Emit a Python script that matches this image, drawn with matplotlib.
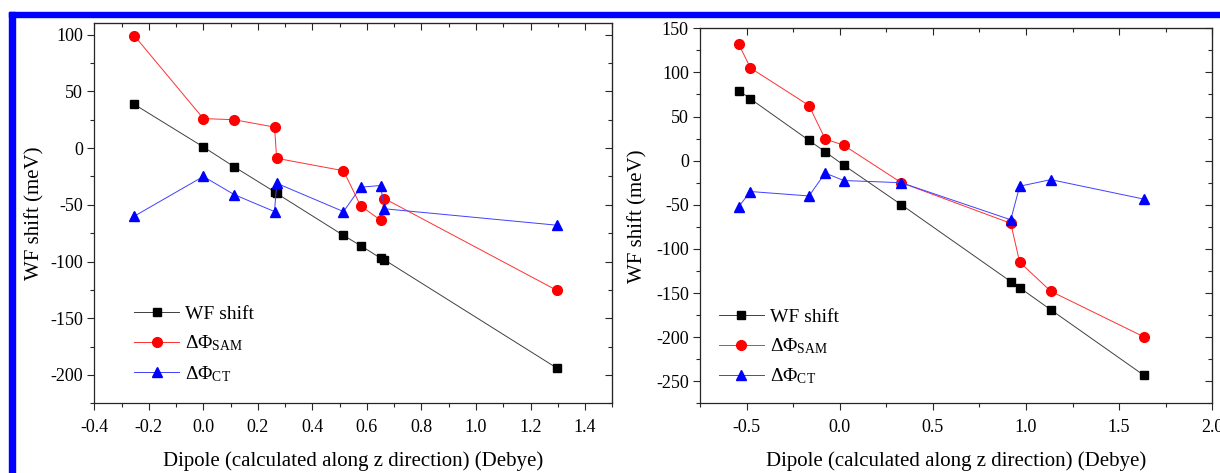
import matplotlib
matplotlib.use("Agg")
import matplotlib.pyplot as plt
from matplotlib.patches import Rectangle
from matplotlib.ticker import MultipleLocator

plt.rcParams["font.family"] = ["Liberation Serif", "DejaVu Serif"]
plt.rcParams["mathtext.fontset"] = "custom"
plt.rcParams["mathtext.rm"] = "Liberation Serif"
plt.rcParams["mathtext.it"] = "Liberation Serif:italic"
plt.rcParams["mathtext.bf"] = "Liberation Serif:bold"
plt.rcParams["axes.unicode_minus"] = False

# left panel
dipole_left = [-0.253, 0.0, 0.113, 0.261, 0.269, 0.514, 0.577, 0.65, 0.664, 1.297]
wf_left = [38.5, 1, -16.5, -38.5, -40, -77, -86, -97, -98.5, -194]
sam_left = [99, 26, 25, 18.5, -9, -20, -51, -63.5, -44.5, -125.5]
ct_left = [-60, -25, -41, -56, -31, -56, -34.5, -33, -53.5, -68]

# right panel
dipole_right = [-0.542, -0.479, -0.165, -0.078, 0.021, 0.331, 0.918, 0.966, 1.133, 1.631]
wf_right = [79.5, 70, 23, 10, -5, -50, -137, -144, -169, -243]
sam_right = [132, 105, 62.5, 24.5, 17.5, -25, -71, -115, -148, -199.5]
ct_right = [-52, -35, -40, -14, -22.5, -25, -67, -29, -21.5, -43.5]

labels = ["WF shift", r"$\Delta\Phi_{\mathrm{SAM}}$", r"$\Delta\Phi_{\mathrm{CT}}$"]
XLABEL = "Dipole (calculated along z direction) (Debye)"
YLABEL = "WF shift (meV)"
SPINE = "#262626"


def draw_panel(ax, x, wf, sam, ct, xlim, ylim, xstep, ystep, leg_anchor, ylabelpad):
    ax.plot(x, wf, color="#404040", lw=0.7, marker="s", ms=5.8,
            mfc="black", mec="black", label=labels[0])
    ax.plot(x, sam, color="#ff3030", lw=0.7, marker="o", ms=7,
            mfc="#ff0000", mec="#ff0000", label=labels[1])
    ax.plot(x, ct, color="#4040ff", lw=0.7, marker="^", ms=7,
            mfc="#0000ff", mec="#0000ff", label=labels[2])

    ax.set_xlim(*xlim)
    ax.set_ylim(*ylim)
    ax.xaxis.set_major_locator(MultipleLocator(xstep))
    ax.xaxis.set_minor_locator(MultipleLocator(xstep / 2))
    ax.yaxis.set_major_locator(MultipleLocator(ystep))
    ax.yaxis.set_minor_locator(MultipleLocator(ystep / 2))
    ax.tick_params(which="both", direction="out", top=False, right=False,
                   labelsize=13, color=SPINE, width=0.8)
    ax.tick_params(which="major", length=5)
    ax.tick_params(which="minor", length=3)
    ax.tick_params(axis="x", pad=6)
    ax.tick_params(axis="y", pad=3)
    for sp in ax.spines.values():
        sp.set_color(SPINE)
        sp.set_linewidth(0.9)

    # mirrored ticks on top/right point inward, without labels
    top = ax.secondary_xaxis("top")
    top.xaxis.set_major_locator(MultipleLocator(xstep))
    top.xaxis.set_minor_locator(MultipleLocator(xstep / 2))
    top.tick_params(which="both", direction="in", labeltop=False, color=SPINE, width=0.8)
    top.tick_params(which="major", length=5)
    top.tick_params(which="minor", length=3)
    top.spines["top"].set_color(SPINE)
    right = ax.secondary_yaxis("right")
    right.yaxis.set_major_locator(MultipleLocator(ystep))
    right.yaxis.set_minor_locator(MultipleLocator(ystep / 2))
    right.tick_params(which="both", direction="in", labelright=False, color=SPINE, width=0.8)
    right.tick_params(which="major", length=5)
    right.tick_params(which="minor", length=3)
    right.spines["right"].set_color(SPINE)

    ax.set_xlabel(XLABEL, fontsize=15, labelpad=11)
    ax.set_ylabel(YLABEL, fontsize=15, labelpad=ylabelpad)

    ax.legend(loc="lower left", bbox_to_anchor=leg_anchor, frameon=False,
              fontsize=14, handlelength=2.3, handletextpad=0.3,
              labelspacing=0.55, borderpad=0, borderaxespad=0)


fig = plt.figure(figsize=(12.2, 4.73), dpi=100)
ax_l = fig.add_axes([94.3 / 1220, 69.7 / 473, 518 / 1220, 380 / 473])
ax_r = fig.add_axes([700 / 1220, 69.7 / 473, 512.3 / 1220, 375 / 473])

draw_panel(ax_l, dipole_left, wf_left, sam_left, ct_left,
           (-0.4, 1.5), (-225, 110), 0.2, 50, (0.077, 0.052), 4)
draw_panel(ax_r, dipole_right, wf_right, sam_right, ct_right,
           (-0.75, 2.0), (-275, 150), 0.5, 50, (0.037, 0.045), 6)
ax_r.xaxis.set_minor_locator(MultipleLocator(0.25))

# blue frame of the screenshot (cut off at right and bottom)
fig.patches.append(Rectangle((9 / 1220, 0), 6 / 1220, (473 - 12.5) / 473,
                             transform=fig.transFigure, color="#0000ff", zorder=10))
fig.patches.append(Rectangle((9 / 1220, (473 - 17.5) / 473), 1, 5 / 473,
                             transform=fig.transFigure, color="#0000ff", zorder=10))

fig.savefig("out.png", dpi=100)
